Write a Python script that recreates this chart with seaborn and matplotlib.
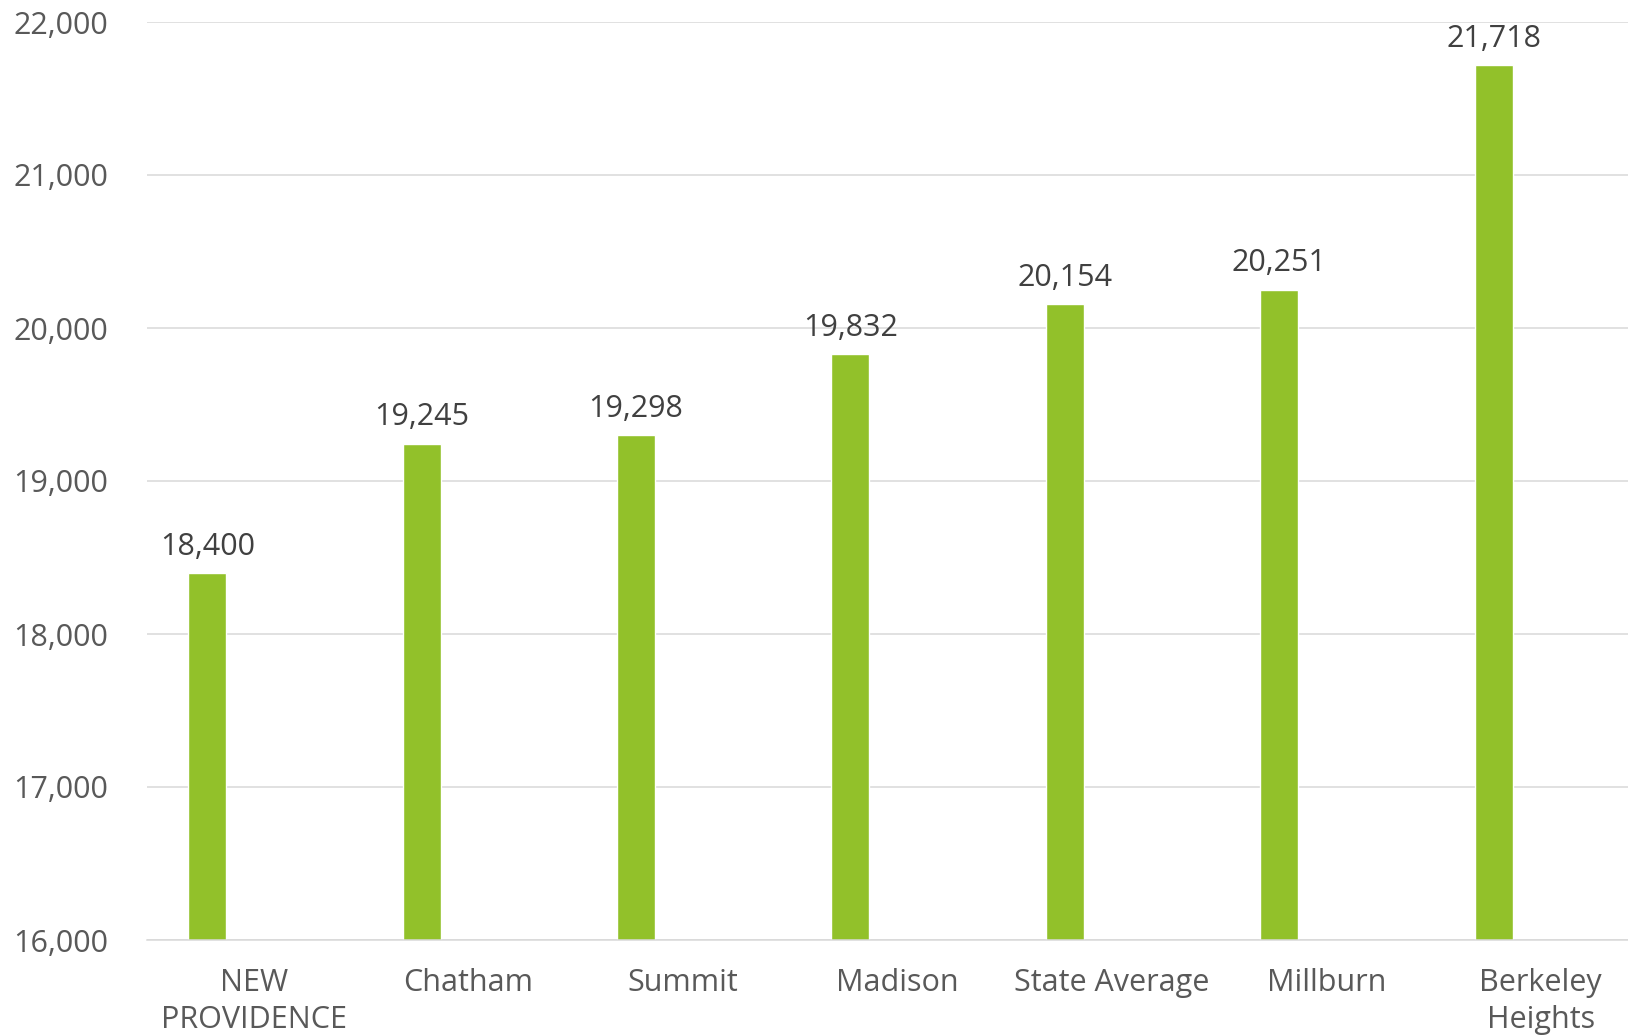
import matplotlib
matplotlib.use("Agg")
import matplotlib.pyplot as plt
import seaborn as sns
import pandas as pd
from matplotlib.ticker import FuncFormatter, MultipleLocator

# --- Data ---
towns = ["NEW\nPROVIDENCE", "Chatham", "Summit", "Madison",
         "State Average", "Millburn", "Berkeley\nHeights"]
values = [18400, 19245, 19298, 19832, 20154, 20251, 21718]

df = pd.DataFrame({"town": towns, "value": values})

# --- Style ---
sns.set_style("white")
plt.rcParams["font.family"] = ["Open Sans", "DejaVu Sans"]

fig = plt.figure(figsize=(16.28, 10.35), dpi=100)
ax = fig.add_axes([147 / 1628, 1 - 940 / 1035, 7 * 214.4 / 1628, (940 - 22) / 1035])

sns.barplot(x="town", y="value", data=df, color="#92C12A", width=0.177,
            saturation=1, ax=ax)

# Excel-style: bar sits left of the category centre
for p in ax.patches:
    p.set_x(p.get_x() - 0.219)

ax.bar_label(ax.containers[0], labels=[f"{v:,}" for v in values],
             padding=8, fontsize=22, color="#404040")

ax.set_ylim(16000, 22000)
ax.set_xlim(-0.5, 6.5)
ax.yaxis.set_major_locator(MultipleLocator(1000))
ax.yaxis.set_major_formatter(FuncFormatter(lambda v, _: f"{int(v):,}"))

ax.grid(axis="y", color="#D9D9D9", linewidth=1.1)
ax.set_axisbelow(True)
for s in ["top", "right", "left"]:
    ax.spines[s].set_visible(False)
ax.spines["bottom"].set_color("#D9D9D9")
ax.spines["bottom"].set_linewidth(1.1)

ax.tick_params(axis="y", length=0, pad=28, labelsize=22, labelcolor="#595959")
ax.tick_params(axis="x", length=0, pad=20, labelsize=22, labelcolor="#595959")
for lbl in ax.get_xticklabels():
    lbl.set_linespacing(1.3)
ax.set_xlabel("")
ax.set_ylabel("")

fig.savefig("out.png", dpi=100)
